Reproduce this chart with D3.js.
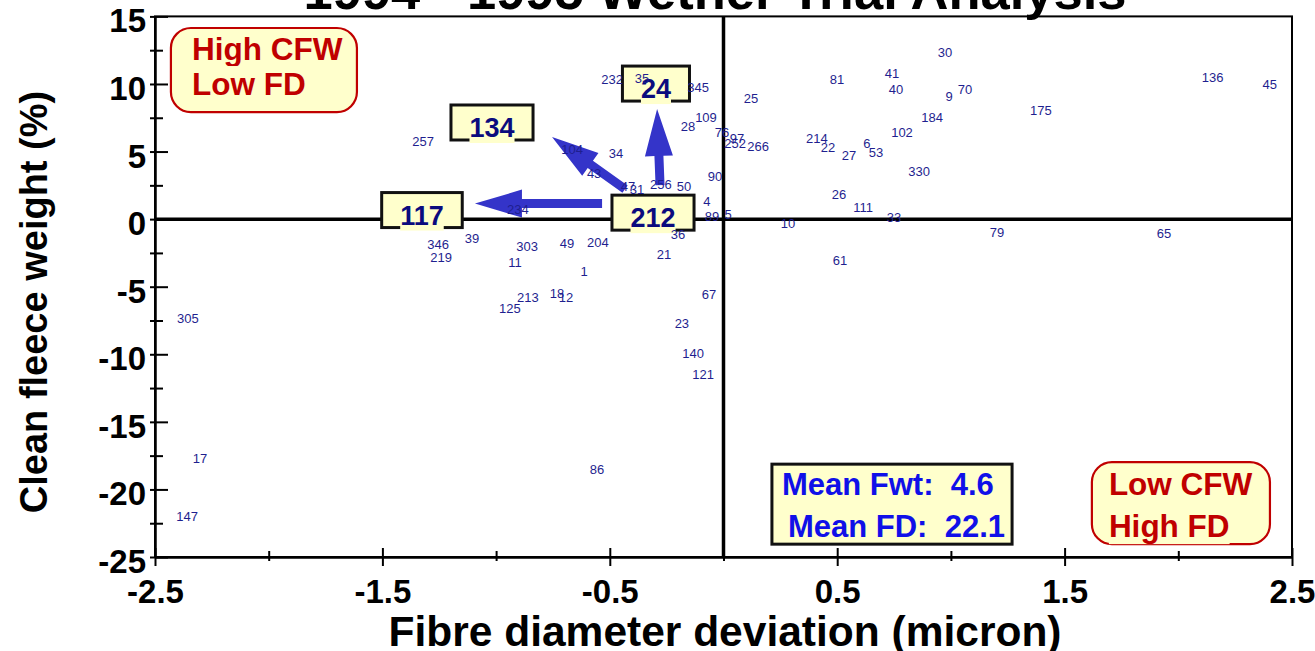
<!DOCTYPE html>
<html><head><meta charset="utf-8">
<script src="https://cdn.jsdelivr.net/npm/d3@7"></script>
<style>
html,body{margin:0;padding:0;background:#fff;}
svg{display:block;font-family:"Liberation Sans",Arial,Helvetica,sans-serif;}
</style></head><body>
<svg id="chart" width="1315" height="651"></svg>
<script>
// Sire progeny results, expressed as deviations from the trial mean
const sireIds = ["257","232","35","345","109","28","104","34","43","47","31","256","50","90","4","89","5","234","36","39","346","219","303","11","49","204","21","1","213","18","12","125","67","23","140","121","305","17","147","86","30","41","81","40","70","9","25","184","102","214","6","22","53","27","266","76","97","252","330","26","111","33","10","79","61","175","136","45","65"];
const fibreDev = [-1.321,-0.490,-0.358,-0.112,-0.077,-0.156,-0.666,-0.473,-0.569,-0.420,-0.380,-0.275,-0.174,-0.037,-0.073,-0.051,0.020,-0.904,-0.200,-1.106,-1.255,-1.242,-0.864,-0.917,-0.688,-0.552,-0.262,-0.613,-0.860,-0.732,-0.693,-0.939,-0.064,-0.183,-0.134,-0.090,-2.355,-2.302,-2.359,-0.556,0.974,0.741,0.499,0.759,1.062,0.992,0.121,0.917,0.785,0.411,0.631,0.460,0.671,0.552,0.152,-0.007,0.059,0.051,0.860,0.508,0.614,0.750,0.284,1.203,0.512,1.396,2.151,2.402,1.937];
const fleeceWt = [5.78,10.34,10.44,9.77,7.55,6.88,5.18,4.89,3.41,2.45,2.22,2.59,2.45,3.18,1.33,0.23,0.37,0.74,-1.11,-1.41,-1.85,-2.81,-2.00,-3.18,-1.78,-1.70,-2.59,-3.84,-5.77,-5.48,-5.77,-6.59,-5.55,-7.70,-9.92,-11.47,-7.33,-17.69,-21.98,-18.50,12.36,10.81,10.37,9.63,9.63,9.04,8.96,7.55,6.44,6.00,5.63,5.33,4.96,4.74,5.40,6.44,6.00,5.63,3.56,1.85,0.89,0.15,-0.29,-0.96,-3.03,8.07,10.51,9.99,-1.03];

// Highlighted sires shown in boxes
const keySires = ["24","134","117","212"];
const keyDev = [-0.297,-1.018,-1.326,-0.310];
const keyWt = [10.03,7.15,0.67,0.48];

// Arrows leading away from sire 212
const arrowFromDev = [-0.534,-0.433,-0.279];
const arrowFromWt = [1.15,2.22,2.52];
const arrowToDev = [-1.093,-0.754,-0.292];
const arrowToWt = [1.15,6.07,8.15];

const xMajorTicks = [-2.5,-1.5,-0.5,0.5,1.5,2.5];
const xMinorTicks = [-2,-1,0,1,2];
const yMajorTicks = [15,10,5,0,-5,-10,-15,-20,-25];
const yMinorTicks = [12.5,7.5,2.5,-2.5,-7.5,-12.5,-17.5,-22.5];

const quadrantNotes = [["High CFW","Low FD"],["Low CFW","High FD"]];
const quadrantDev = [[-2.43,-1.612],[1.62,2.403]];
const quadrantWt = [[14.14,7.92],[-17.98,-24.05]];
const meanLines = ["Mean Fwt:  4.6","Mean FD:  22.1"];
const meanDev = [0.213,1.269];
const meanWt = [-18.13,-24.05];

const titleText = "1994 - 1995 Wether Trial Analysis";
const xTitle = "Fibre diameter deviation (micron)";
const yTitle = "Clean fleece weight (%)";

const svg = d3.select("#chart");
const x = d3.scaleLinear().domain([-2.5,2.5]).range([155,1292]);
const y = d3.scaleLinear().domain([-25,15]).range([557,16.4]);

const YELLOW = "#ffffcc", RED = "#c00000", NAVY = "#1f1f8f";

// Title (runs off the top edge)
svg.append("text").attr("x",715).attr("y",9).attr("text-anchor","middle")
  .attr("font-size",52.5).attr("font-weight","bold").attr("fill","#000").text(titleText);

// Arrows
const arrowG = svg.append("g");
function arrowPath(x0,y0,x1,y1){
  const sw=9, hw=28, hl=47;
  const dx=x1-x0, dy=y1-y0, L=Math.hypot(dx,dy);
  const ux=dx/L, uy=dy/L, nx=-uy, ny=ux;
  const bx=x1-ux*hl, by=y1-uy*hl;
  const p=[[x0+nx*sw/2,y0+ny*sw/2],[bx+nx*sw/2,by+ny*sw/2],[bx+nx*hw/2,by+ny*hw/2],[x1,y1],
           [bx-nx*hw/2,by-ny*hw/2],[bx-nx*sw/2,by-ny*sw/2],[x0-nx*sw/2,y0-ny*sw/2]];
  return "M"+p.map(d=>d.join(",")).join("L")+"Z";
}
arrowFromDev.forEach((d,i)=>{
  arrowG.append("path")
    .attr("d",arrowPath(x(d),y(arrowFromWt[i]),x(arrowToDev[i]),y(arrowToWt[i])))
    .attr("fill","#3434c9");
});

// Frame
svg.append("rect").attr("x",x(-2.5)).attr("y",y(15)).attr("width",x(2.5)-x(-2.5)).attr("height",y(-25)-y(15))
  .attr("fill","none").attr("stroke","#000").attr("stroke-width",2);

// Axes
function styleAxis(g){ g.selectAll("line").attr("stroke","#000").attr("stroke-width",2); g.select(".domain").attr("stroke","#000").attr("stroke-width",2.5); }
const yAxisG = svg.append("g").attr("transform",`translate(${x(-2.5)},0)`)
  .call(d3.axisLeft(y).tickValues(yMajorTicks).tickSizeInner(5).tickSizeOuter(0).tickPadding(4).tickFormat(d=>String(d)));
styleAxis(yAxisG);
yAxisG.selectAll("text").attr("font-size",33).attr("font-weight","bold").attr("fill","#000").attr("font-family",null).attr("dy","0.47em");
svg.append("g").attr("transform",`translate(${x(-2.5)},0)`)
  .call(d3.axisRight(y).tickValues(yMajorTicks).tickSize(13).tickFormat("")).call(g=>g.select(".domain").remove()).call(styleAxis);
svg.append("g").attr("transform",`translate(${x(-2.5)},0)`)
  .call(d3.axisRight(y).tickValues(yMinorTicks).tickSize(8).tickFormat("")).call(g=>g.select(".domain").remove()).call(styleAxis);
svg.append("g").attr("transform",`translate(${x(-2.5)},0)`)
  .call(d3.axisLeft(y).tickValues(yMinorTicks).tickSize(5).tickFormat("")).call(g=>g.select(".domain").remove()).call(styleAxis);

const xAxisG = svg.append("g").attr("transform",`translate(0,${y(-25)})`)
  .call(d3.axisBottom(x).tickValues(xMajorTicks).tickSizeInner(9).tickSizeOuter(0).tickPadding(14).tickFormat(d=>String(d)));
styleAxis(xAxisG);
xAxisG.selectAll("text").attr("font-size",33).attr("font-weight","bold").attr("fill","#000").attr("font-family",null);
svg.append("g").attr("transform",`translate(0,${y(-25)})`)
  .call(d3.axisTop(x).tickValues(xMajorTicks).tickSize(9).tickFormat("")).call(g=>g.select(".domain").remove()).call(styleAxis);
svg.append("g").attr("transform",`translate(0,${y(-25)})`)
  .call(d3.axisTop(x).tickValues(xMinorTicks).tickSize(6).tickFormat("")).call(g=>g.select(".domain").remove()).call(styleAxis);
svg.append("g").attr("transform",`translate(0,${y(-25)})`)
  .call(d3.axisBottom(x).tickValues(xMinorTicks).tickSize(4).tickFormat("")).call(g=>g.select(".domain").remove()).call(styleAxis);

// Axis titles
svg.append("text").attr("x",725).attr("y",646).attr("text-anchor","middle")
  .attr("font-size",42.5).attr("font-weight","bold").text(xTitle);
svg.append("text").attr("transform","translate(47,302) rotate(-90)").attr("text-anchor","middle")
  .attr("font-size",38).attr("font-weight","bold").text(yTitle);

// Zero reference lines
svg.append("line").attr("x1",x(-2.5)).attr("x2",x(2.5)).attr("y1",y(0)).attr("y2",y(0))
  .attr("stroke","#000").attr("stroke-width",3.5);
svg.append("line").attr("x1",x(0)).attr("x2",x(0)).attr("y1",y(15)).attr("y2",y(-25))
  .attr("stroke","#000").attr("stroke-width",3.5);

// Text with a filled backing that sits over a box border
function backedText(g, tx, ty, str, attrs, bg){
  const t = g.append("text").attr("x",tx).attr("y",ty).text(str);
  Object.entries(attrs).forEach(([k,v])=>t.attr(k,v));
  const bb = t.node().getBBox();
  g.insert("rect", () => t.node()).attr("x",bb.x).attr("y",bb.y).attr("width",bb.width).attr("height",bb.height).attr("fill",bg);
  return t;
}

// Highlighted sire boxes
keySires.forEach((s,i)=>{
  const g = svg.append("g");
  const cx = x(keyDev[i]), cy = y(keyWt[i]);
  const probe = g.append("text").attr("font-size",27).attr("font-weight","bold").text(s);
  const w = probe.node().getComputedTextLength() + 37; probe.remove();
  const h = 35;
  g.append("rect").attr("x",cx-w/2).attr("y",cy-h/2).attr("width",w).attr("height",h)
    .attr("fill",YELLOW).attr("stroke","#111").attr("stroke-width",3);
  backedText(g, cx, cy+14.5, s, {"text-anchor":"middle","font-size":27,"font-weight":"bold","fill":"#0b0b7e"}, YELLOW);
});

// Sire labels
svg.append("g").selectAll("text").data(sireIds).join("text")
  .attr("x",(d,i)=>x(fibreDev[i])).attr("y",(d,i)=>y(fleeceWt[i])).attr("dy","0.35em")
  .attr("text-anchor","middle").attr("font-size",13).attr("fill",NAVY).text(d=>d);

// Quadrant notes
quadrantNotes.forEach((lines,i)=>{
  const g = svg.append("g");
  const x0 = x(quadrantDev[i][0]), x1 = x(quadrantDev[i][1]);
  const y0 = y(quadrantWt[i][0]), y1 = y(quadrantWt[i][1]);
  g.append("rect").attr("x",x0).attr("y",y0).attr("width",x1-x0).attr("height",y1-y0)
    .attr("rx",20).attr("ry",20).attr("fill",YELLOW).attr("stroke",RED).attr("stroke-width",2.2);
  const pad = i===0 ? 21 : 17;
  const base = i===0 ? [32,67] : [33,75];
  lines.forEach((l,j)=>{
    backedText(g, x0+pad, y0+base[j], l, {"font-size":31.5,"font-weight":"bold","fill":RED}, YELLOW);
  });
});

// Trial means
{
  const g = svg.append("g");
  const x0 = x(meanDev[0]), x1 = x(meanDev[1]), y0 = y(meanWt[0]), y1 = y(meanWt[1]);
  g.append("rect").attr("x",x0).attr("y",y0).attr("width",x1-x0).attr("height",y1-y0)
    .attr("fill",YELLOW).attr("stroke","#111").attr("stroke-width",3);
  const offs = [[10,31],[16,73]];
  meanLines.forEach((l,j)=>{
    g.append("text").attr("x",x0+offs[j][0]).attr("y",y0+offs[j][1]).attr("xml:space","preserve")
      .style("white-space","pre").attr("font-size",31).attr("font-weight","bold").attr("fill","#1010e8").text(l);
  });
}
</script>
</body></html>
